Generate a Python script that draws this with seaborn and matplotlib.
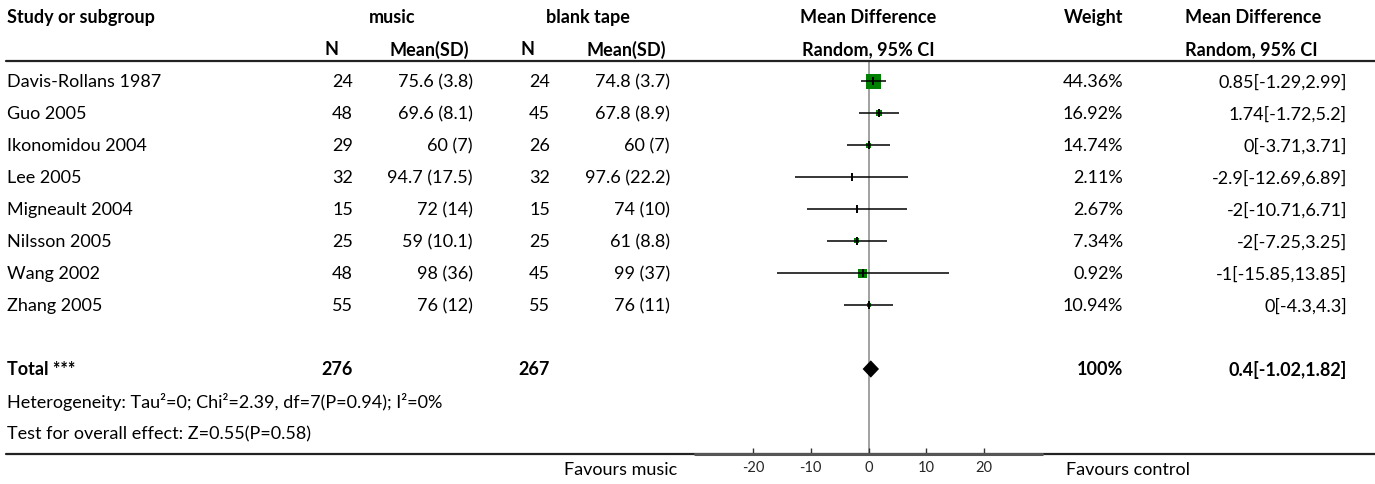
import numpy as np
import pandas as pd
import matplotlib
matplotlib.use("Agg")
import matplotlib.pyplot as plt
import matplotlib.transforms as mtransforms
from matplotlib.lines import Line2D
import seaborn as sns

# ---------------- data ----------------
studies = ["Davis-Rollans 1987", "Guo 2005", "Ikonomidou 2004", "Lee 2005",
           "Migneault 2004", "Nilsson 2005", "Wang 2002", "Zhang 2005"]
music_n = [24, 48, 29, 32, 15, 25, 48, 55]
music_msd = ["75.6 (3.8)", "69.6 (8.1)", "60 (7)", "94.7 (17.5)",
             "72 (14)", "59 (10.1)", "98 (36)", "76 (12)"]
tape_n = [24, 45, 26, 32, 15, 25, 45, 55]
tape_msd = ["74.8 (3.7)", "67.8 (8.9)", "60 (7)", "97.6 (22.2)",
            "74 (10)", "61 (8.8)", "99 (37)", "76 (11)"]
weights = ["44.36%", "16.92%", "14.74%", "2.11%", "2.67%", "7.34%", "0.92%", "10.94%"]
md = [0.85, 1.74, 0, -2.9, -2, -2, -1, 0]
ci_lo = [-1.29, -1.72, -3.71, -12.69, -10.71, -7.25, -15.85, -4.3]
ci_hi = [2.99, 5.2, 3.71, 6.89, 6.71, 3.25, 13.85, 4.3]

total_music_n = 276
total_tape_n = 267
total_weight = "100%"
total_md, total_lo, total_hi = 0.4, -1.02, 1.82
heterogeneity = "Heterogeneity: Tau\u00b2=0; Chi\u00b2=2.39, df=7(P=0.94); I\u00b2=0%"
overall = "Test for overall effect: Z=0.55(P=0.58)"
x_ticks = [-20, -10, 0, 10, 20]

# ---------------- style ----------------
square_px = [15, 6, 5, 2, 2, 5, 9, 4]   # marker side lengths (styling)

sns.set_theme(style="white")
plt.rcParams['font.family'] = ['Lato', 'DejaVu Sans']
FS = 13.0

W, H, DPI = 1375, 485, 100
fig = plt.figure(figsize=(W / DPI, H / DPI), dpi=DPI)


def fx(px):
    return px / W


def fy(py):
    return 1 - py / H


ROW0, ROWH = 82, 32
AX_L, AX_R, AX_T, AX_B = 695, 1042, 62, 455
ax = fig.add_axes([fx(AX_L), fy(AX_B), (AX_R - AX_L) / W, (AX_B - AX_T) / H])
ax.set_xlim(-30, 30)
ax.set_ylim((AX_B - ROW0) / ROWH, (AX_T - ROW0) / ROWH)

rows = np.arange(len(studies))
df = pd.DataFrame({"study": studies, "md": md, "lo": ci_lo, "hi": ci_hi, "row": rows})
df["s"] = (np.array(square_px) * 72 / DPI) ** 2

# zero line
ax.axvline(0, color="#9a9a9a", lw=1.3, zorder=0)

# squares
sns.scatterplot(data=df, x="md", y="row", marker="s", color="green",
                s=df["s"], linewidth=0, ax=ax, legend=False, zorder=2)
# CI lines and estimate ticks
ax.hlines(df["row"], df["lo"], df["hi"], color="black", lw=1.1, zorder=3)
ax.vlines(df["md"], df["row"] - 0.14, df["row"] + 0.14, color="black", lw=1.4, zorder=4)

# total diamond
TROW = 9
hh = 0.27
ax.fill([total_lo, total_md, total_hi, total_md],
        [TROW, TROW - hh, TROW, TROW + hh], color="black", lw=0, zorder=4)

ax.set_xticks(x_ticks)
ax.set_xticklabels([str(t) for t in x_ticks])
ax.set_yticks([])
ax.set_xlabel("")
ax.set_ylabel("")
ax.tick_params(axis="x", direction="in", length=4.5, width=1, color="#333",
               labelsize=10.5, pad=4, bottom=True)
for sp in ax.spines.values():
    sp.set_visible(False)

# horizontal rules
fig.add_artist(Line2D([fx(6), 1], [fy(AX_T)] * 2, color="#222", lw=1.6))
fig.add_artist(Line2D([fx(6), 1], [fy(AX_B)] * 2, color="#222", lw=1.6))
fig.add_artist(Line2D([fx(AX_L), fx(AX_R)], [fy(AX_B)] * 2, color="#555", lw=2.2))

tr = mtransforms.blended_transform_factory(fig.transFigure, ax.transData)


def T(px, row, s, ha="left", bold=False, size=FS):
    ax.text(fx(px), row, s, transform=tr, ha=ha, va="center",
            fontsize=size, fontweight="bold" if bold else "normal",
            color="black", clip_on=False)


# headers
H1, H2 = -2, -1
T(7, H1, "Study or subgroup", bold=True)
T(392, H1, "music", ha="center", bold=True)
T(588, H1, "blank tape", ha="center", bold=True)
T(868, H1, "Mean Difference", ha="center", bold=True)
T(1094, H1, "Weight", ha="center", bold=True)
T(1253, H1, "Mean Difference", ha="center", bold=True)
T(338, H2, "N", ha="right", bold=True)
T(469, H2, "Mean(SD)", ha="right", bold=True)
T(534, H2, "N", ha="right", bold=True)
T(666, H2, "Mean(SD)", ha="right", bold=True)
T(868, H2, "Random, 95% CI", ha="center", bold=True)
T(1251, H2, "Random, 95% CI", ha="center", bold=True)

# study rows
for i in range(len(studies)):
    T(7, i, studies[i])
    T(353, i, str(music_n[i]), ha="right")
    T(473, i, music_msd[i], ha="right")
    T(550, i, str(tape_n[i]), ha="right")
    T(670, i, tape_msd[i], ha="right")
    T(1123, i, weights[i], ha="right")
    T(1347, i, f"{md[i]:g}[{ci_lo[i]:g},{ci_hi[i]:g}]", ha="right")

# total rows
T(7, TROW, "Total ***", bold=True)
T(353, TROW, str(total_music_n), ha="right", bold=True)
T(550, TROW, str(total_tape_n), ha="right", bold=True)
T(1123, TROW, total_weight, ha="right", bold=True)
T(1347, TROW, f"{total_md:g}[{total_lo:g},{total_hi:g}]", ha="right", bold=True)
T(7, 10, heterogeneity)
T(7, 11, overall)

# favours labels
FROW = (470 - ROW0) / ROWH
T(677, FROW, "Favours music", ha="right")
T(1066, FROW, "Favours control")

fig.savefig("out.png", dpi=DPI)
